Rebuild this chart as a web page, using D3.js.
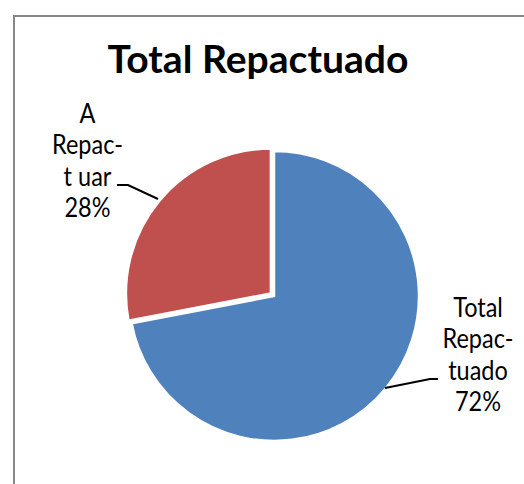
<!DOCTYPE html>
<html>
<head>
<meta charset="utf-8">
<script src="https://cdn.jsdelivr.net/npm/d3@7"></script>
<style>
  body { margin: 0; background: #fff; }
  svg { display: block; }
  text { font-family: Lato, "Open Sans", sans-serif; fill: #000; }
</style>
</head>
<body>
<div id="main"></div>
<script>
var title = "Total Repactuado";
var categories = ["Total Repactuado", "A Repactuar"];
var values = [72, 28];
var labelLines = [["Total", "Repac-", "tuado", "72%"], ["A", "Repac-", "t uar", "28%"]];
var colors = ["#4F81BD", "#C0504D"];

var ctx = {
    w: 524,
    h: 484,
    cx: 274,
    cy: 296,
    r: 145,
    explode: 4,
    lineH: 31.5,
    stretchY: 1.14, // label glyphs are taller than Lato's
};

var svg = d3.select("#main").append("svg")
    .attr("width", ctx.w)
    .attr("height", ctx.h);

svg.append("rect")
    .attr("width", ctx.w).attr("height", ctx.h).attr("fill", "#fff");

// chart border (right and bottom edges fall outside the window)
svg.append("rect")
    .attr("x", 14).attr("y", 16)
    .attr("width", 600).attr("height", 600)
    .attr("fill", "none")
    .attr("stroke", "#868686")
    .attr("stroke-width", 2);

var titleEl = svg.append("text")
    .attr("x", 258).attr("y", 73)
    .attr("text-anchor", "middle")
    .attr("font-weight", "bold")
    .attr("font-size", 34)
    .text(title);
// fit title width to the reference
var tw = titleEl.node().getComputedTextLength();
titleEl.attr("font-size", 34 * 301 / tw);

var pie = d3.pie().sort(null).value((d) => d);
var arcs = pie(values);
var arc = d3.arc().innerRadius(0).outerRadius(ctx.r);

var g = svg.append("g").attr("transform", `translate(${ctx.cx},${ctx.cy})`);

g.selectAll("path")
    .data(arcs)
    .enter()
    .append("path")
    .attr("d", arc)
    .attr("fill", (d, i) => colors[i])
    .attr("stroke", "#fff")
    .attr("stroke-width", 2.5)
    .attr("stroke-linejoin", "miter")
    .attr("transform", function (d, i) {
        if (i !== 1) return null;
        var a = (d.startAngle + d.endAngle) / 2;
        return `translate(${Math.sin(a) * ctx.explode},${-Math.cos(a) * ctx.explode})`;
    });

// label layout: text centre x, first baseline y, leader polyline
var labelPos = [
    { x: 478, y: 317, leader: [[438, 379], [430, 379], [385, 388]] },
    { x: 87.5, y: 123, leader: [[117, 185], [128, 185], [158, 199]] },
];

var line = d3.line();
labelPos.forEach(function (p, i) {
    var t = svg.append("g")
        .attr("transform", `translate(${p.x},${p.y}) scale(1,${ctx.stretchY})`)
        .append("text")
        .attr("text-anchor", "middle")
        .attr("font-size", 23.5);
    labelLines[i].forEach(function (s, k) {
        t.append("tspan")
            .attr("x", 0)
            .attr("y", (k * ctx.lineH) / ctx.stretchY)
            .text(s);
    });
    svg.append("path")
        .attr("d", line(p.leader))
        .attr("fill", "none")
        .attr("stroke", "#000")
        .attr("stroke-width", 2);
});
</script>
</body>
</html>
